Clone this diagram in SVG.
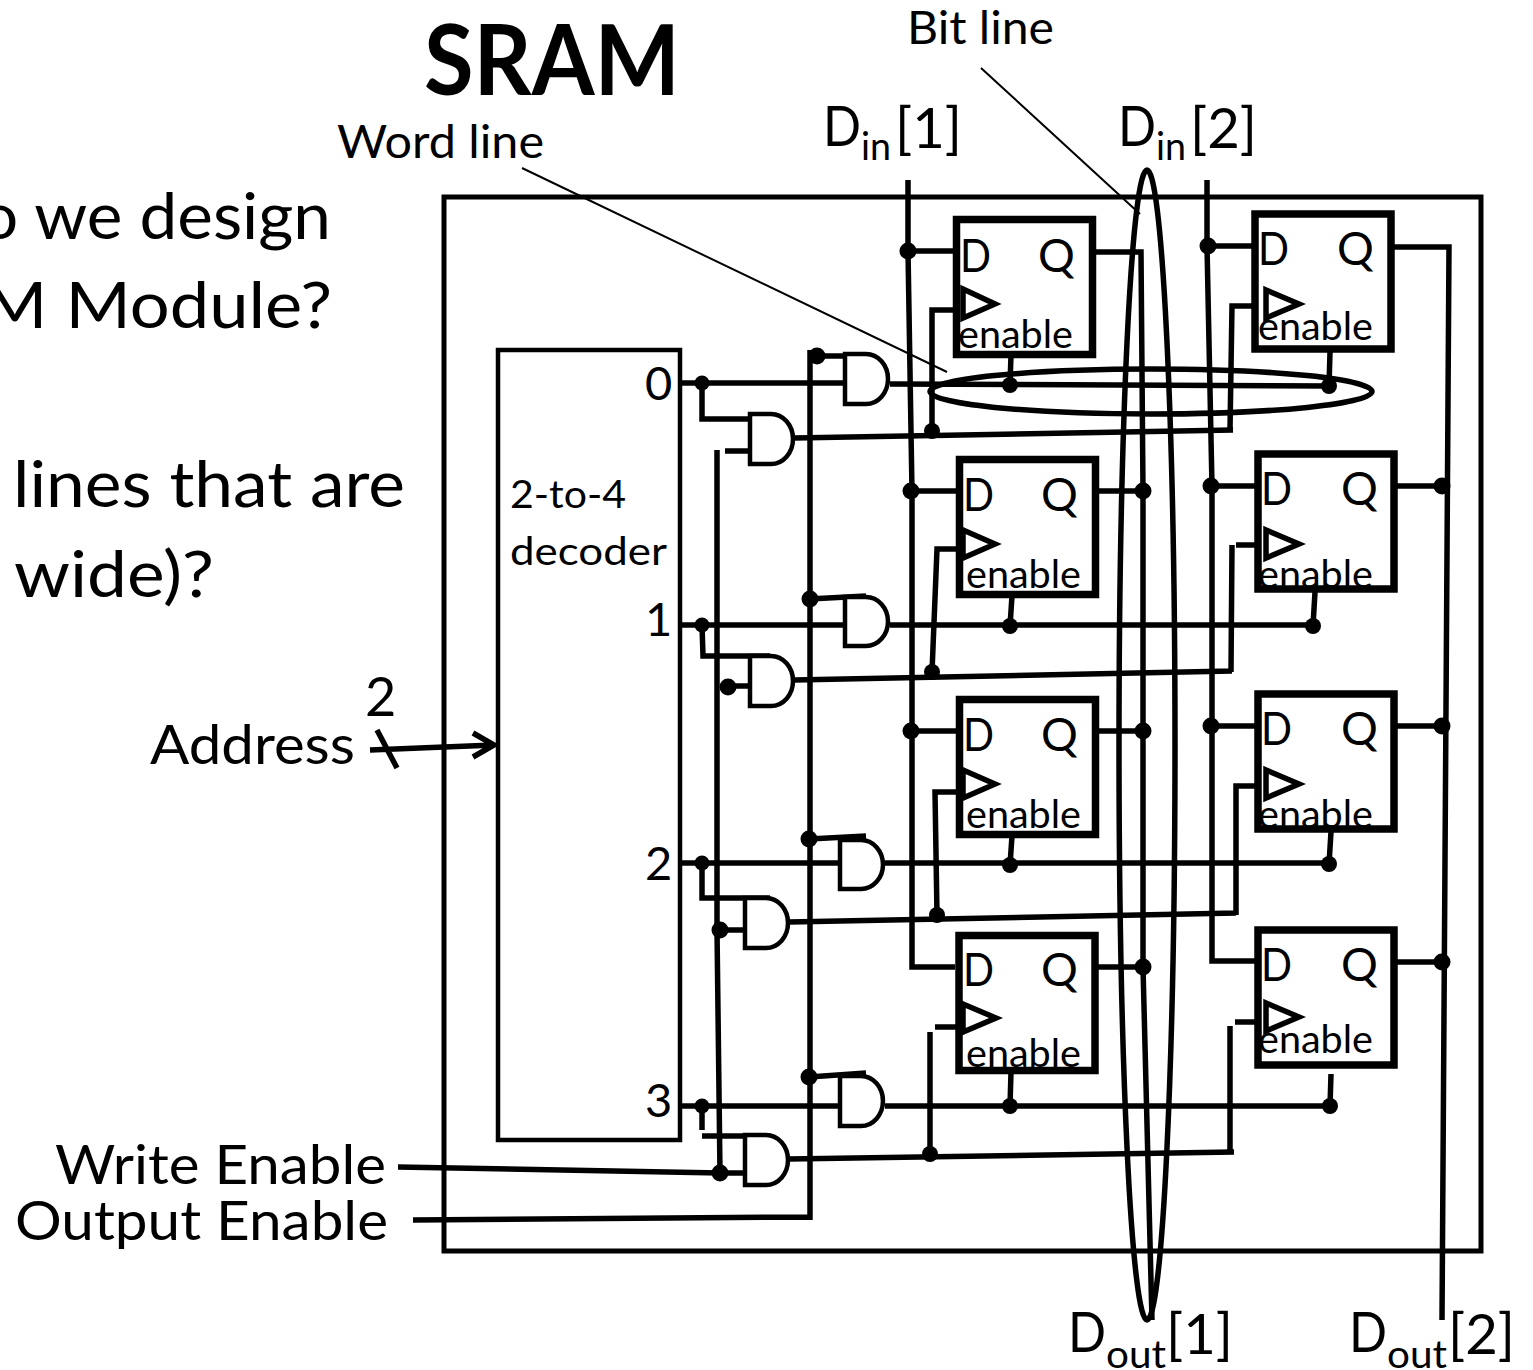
<svg xmlns="http://www.w3.org/2000/svg" width="1533" height="1370" viewBox="0 0 1533 1370">
<style>
text{font-family:"Lato","Carlito","Open Sans",sans-serif;fill:#000}
.h{font-size:64px}
.l{font-size:47px}
.m{font-size:54px}
.e{font-size:38px}
.dq{font-size:46px}
.s{font-size:38px}
.b{font-size:56px}
.w{fill:none;stroke:#000;stroke-width:5.5}
.o{fill:none;stroke:#000;stroke-width:5.5}
.t{fill:none;stroke:#000;stroke-width:2}
.ff{fill:#fff;stroke:#000;stroke-width:7.5}
.tri{fill:none;stroke:#000;stroke-width:5.5;stroke-linejoin:miter}
.g{fill:#fff;stroke:#000;stroke-width:4.5}
.d{fill:#000}
</style>
<rect x="0" y="0" width="1533" height="1370" fill="#fff"/>
<g id="slide-text">
<text x="424" y="95" font-size="98" font-weight="700" textLength="256" lengthAdjust="spacingAndGlyphs">SRAM</text>
<text class="h" x="-20" y="239" textLength="351" lengthAdjust="spacingAndGlyphs">o we design</text>
<text class="h" x="-18" y="328" textLength="350" lengthAdjust="spacingAndGlyphs">M Module?</text>
<text class="h" x="13" y="507" textLength="392" lengthAdjust="spacingAndGlyphs">lines that are</text>
<text class="h" x="14" y="597" textLength="200" lengthAdjust="spacingAndGlyphs">wide)?</text>
</g>
<g id="sram-box"><rect x="444" y="197" width="1037" height="1054" fill="#fff" stroke="#000" stroke-width="5"/></g>
<g id="decoder">
<rect x="498" y="350" width="182" height="790" fill="#fff" stroke="#000" stroke-width="4.5"/>
<text class="e" x="510" y="508" textLength="116" lengthAdjust="spacingAndGlyphs">2-to-4</text>
<text class="e" x="510" y="565" textLength="157" lengthAdjust="spacingAndGlyphs">decoder</text>
<text class="l" x="645" y="400">0</text>
<text class="l" x="645" y="636">1</text>
<text class="l" x="645" y="880">2</text>
<text class="l" x="645" y="1117">3</text>
</g>
<g id="connectors">
<path class="w" d="M908 180L908 251L912 491L912 967L955 967M908 251H955M911 491H959M911 731H959"/>
<path class="w" d="M1207 180L1207 246L1212 486L1212 961L1258 961M1207 246H1255M1211 486H1258M1211 726H1258"/>
<path class="w" d="M1092 252H1141L1143 491L1143 731L1143 967L1152 1320M1096 491H1143M1096 731H1143M1096 967H1143"/>
<path class="w" d="M1392 247H1449L1442 1320M1396 486H1442M1396 726H1442M1396 962H1442"/>
<path class="w" d="M680 383H845M890 384L1329 386M1011 355L1010 385M1330 352L1329 386"/>
<path class="w" d="M680 625H845M890 625H1313M1012 596L1010 626M1315 592L1313 626"/>
<path class="w" d="M680 863H840M885 863H1329M1012 836L1010 865M1331 832L1329 864"/>
<path class="w" d="M680 1106H840M885 1106H1330M1011 1072L1010 1106M1331 1074L1330 1106"/>
<path class="w" d="M702 383V419H770M725 451H748"/>
<path class="w" d="M702 625L703 656H770"/>
<path class="w" d="M702 863V898H770"/>
<path class="w" d="M702 1106V1130M702 1136H770"/>
<path class="w" d="M717 450V930L720 1173M728 686H748M720 930H743M398 1167L720 1173H743"/>
<path class="w" d="M810 350V1220M413 1220L810 1217"/>
<path class="w" d="M817 356H843M809 599L866 596M809 839L866 836M809 1077L866 1073"/>
<path class="w" d="M794 438L1233 430M932 431V310H955M1230 430L1232 306H1255"/>
<path class="w" d="M794 680L1232 671M932 672L937 549H959M1231 672L1232 545M1236 545H1258"/>
<path class="w" d="M789 922L1236 913M937 915L935 792H959M1236 915V786H1258"/>
<path class="w" d="M789 1159L1234 1152M930 1154V1032M935 1027H959M1230 1152V1026M1235 1022H1258"/>
<path class="w" d="M370 750L494 745M473 733L494 745L473 757M377 730L397 768"/>
<path class="t" d="M522 168L947 372M981 68L1140 214"/>
<ellipse class="o" cx="1151" cy="391.5" rx="221" ry="22.5"/>
<ellipse class="o" cx="1147" cy="745" rx="28" ry="575"/>
</g>
<g id="gate-0a"><path class="g" d="M845 354H866A22 25 0 0 1 866 404H845Z"/></g>
<g id="gate-0b"><path class="g" d="M750 414H771A22 25 0 0 1 771 464H750Z"/></g>
<g id="gate-1a"><path class="g" d="M845 597H866A22 24.500 0 0 1 866 646H845Z"/></g>
<g id="gate-1b"><path class="g" d="M750 656H771A22 25 0 0 1 771 706H750Z"/></g>
<g id="gate-2a"><path class="g" d="M840 840H861A22 24.500 0 0 1 861 889H840Z"/></g>
<g id="gate-2b"><path class="g" d="M745 898H766A22 25 0 0 1 766 948H745Z"/></g>
<g id="gate-3a"><path class="g" d="M840 1076H861A22 25 0 0 1 861 1126H840Z"/></g>
<g id="gate-3b"><path class="g" d="M745 1135H766A22 25 0 0 1 766 1185H745Z"/></g>
<g id="ff-1-1"><rect class="ff" x="956.500" y="219.500" width="136" height="135"/><text class="dq" x="960" y="272" textLength="31" lengthAdjust="spacingAndGlyphs">D</text><text class="dq" x="1038" y="272">Q</text><path class="tri" d="M963 289L995 304L963 318Z"/><text class="e" x="958" y="348" textLength="115" lengthAdjust="spacingAndGlyphs">enable</text></g>
<g id="ff-2-1"><rect class="ff" x="959.500" y="459.500" width="136" height="135"/><text class="dq" x="963" y="511" textLength="31" lengthAdjust="spacingAndGlyphs">D</text><text class="dq" x="1041" y="511">Q</text><path class="tri" d="M963 530L995 544L963 558Z"/><text class="e" x="966" y="588" textLength="115" lengthAdjust="spacingAndGlyphs">enable</text></g>
<g id="ff-3-1"><rect class="ff" x="959.500" y="699.500" width="136" height="135"/><text class="dq" x="963" y="751" textLength="31" lengthAdjust="spacingAndGlyphs">D</text><text class="dq" x="1041" y="751">Q</text><path class="tri" d="M963 770L995 784L963 798Z"/><text class="e" x="966" y="828" textLength="115" lengthAdjust="spacingAndGlyphs">enable</text></g>
<g id="ff-4-1"><rect class="ff" x="959" y="935.500" width="136" height="135"/><text class="dq" x="963" y="986" textLength="31" lengthAdjust="spacingAndGlyphs">D</text><text class="dq" x="1041" y="986">Q</text><path class="tri" d="M963 1004L996 1018L963 1032Z"/><text class="e" x="966" y="1067" textLength="115" lengthAdjust="spacingAndGlyphs">enable</text></g>
<g id="ff-1-2"><rect class="ff" x="1255" y="214" width="136" height="135"/><text class="dq" x="1258" y="265" textLength="31" lengthAdjust="spacingAndGlyphs">D</text><text class="dq" x="1337" y="265">Q</text><path class="tri" d="M1266 290L1299 304L1266 318Z"/><text class="e" x="1258" y="340" textLength="115" lengthAdjust="spacingAndGlyphs">enable</text></g>
<g id="ff-2-2"><rect class="ff" x="1258" y="454" width="136" height="135"/><text class="dq" x="1261" y="505" textLength="31" lengthAdjust="spacingAndGlyphs">D</text><text class="dq" x="1341" y="505">Q</text><path class="tri" d="M1266 530L1299 544L1266 558Z"/><text class="e" x="1258" y="588" textLength="115" lengthAdjust="spacingAndGlyphs">enable</text></g>
<g id="ff-3-2"><rect class="ff" x="1258" y="694" width="136" height="135"/><text class="dq" x="1261" y="745" textLength="31" lengthAdjust="spacingAndGlyphs">D</text><text class="dq" x="1341" y="745">Q</text><path class="tri" d="M1266 770L1299 784L1266 798Z"/><text class="e" x="1258" y="828" textLength="115" lengthAdjust="spacingAndGlyphs">enable</text></g>
<g id="ff-4-2"><rect class="ff" x="1258" y="930" width="136" height="135"/><text class="dq" x="1261" y="981" textLength="31" lengthAdjust="spacingAndGlyphs">D</text><text class="dq" x="1341" y="981">Q</text><path class="tri" d="M1266 1003L1299 1017L1266 1031Z"/><text class="e" x="1258" y="1053" textLength="115" lengthAdjust="spacingAndGlyphs">enable</text></g>
<g id="dots">
<circle class="d" cx="908" cy="251" r="8.500"/><circle class="d" cx="911" cy="491" r="8.500"/><circle class="d" cx="911" cy="731" r="8.500"/>
<circle class="d" cx="1208" cy="246" r="8.500"/><circle class="d" cx="1211" cy="486" r="8.500"/><circle class="d" cx="1211" cy="726" r="8.500"/>
<circle class="d" cx="1143" cy="491" r="8.500"/><circle class="d" cx="1143" cy="731" r="8.500"/><circle class="d" cx="1143" cy="967" r="8.500"/>
<circle class="d" cx="1442" cy="486" r="8.500"/><circle class="d" cx="1442" cy="726" r="8.500"/><circle class="d" cx="1442" cy="962" r="8.500"/>
<circle class="d" cx="1010" cy="385" r="8"/><circle class="d" cx="1329" cy="386" r="8"/><circle class="d" cx="1010" cy="626" r="8"/><circle class="d" cx="1313" cy="626" r="8"/>
<circle class="d" cx="1010" cy="865" r="8"/><circle class="d" cx="1329" cy="864" r="8"/><circle class="d" cx="1010" cy="1106" r="8"/><circle class="d" cx="1330" cy="1106" r="8"/>
<circle class="d" cx="702" cy="383" r="7.500"/><circle class="d" cx="702" cy="625" r="7.500"/><circle class="d" cx="702" cy="863" r="7.500"/><circle class="d" cx="702" cy="1106" r="7.500"/>
<circle class="d" cx="817" cy="356" r="8.500"/><circle class="d" cx="810" cy="599" r="8.500"/><circle class="d" cx="809" cy="839" r="8.500"/><circle class="d" cx="809" cy="1077" r="8.500"/>
<circle class="d" cx="932" cy="431" r="8"/><circle class="d" cx="932" cy="672" r="8"/><circle class="d" cx="937" cy="915" r="8"/><circle class="d" cx="930" cy="1154" r="8"/>
<circle class="d" cx="728" cy="687" r="8.500"/><circle class="d" cx="720" cy="930" r="8.500"/><circle class="d" cx="720" cy="1173" r="8.500"/>
</g>
<g id="labels">
<text class="l" x="337" y="158" textLength="207" lengthAdjust="spacingAndGlyphs">Word line</text>
<text class="l" x="907" y="44" textLength="147" lengthAdjust="spacingAndGlyphs">Bit line</text>
<text class="b" x="823" y="146" textLength="38" lengthAdjust="spacingAndGlyphs">D</text><text class="s" x="861" y="160" textLength="30" lengthAdjust="spacingAndGlyphs">in</text><text class="b" x="895" y="148" textLength="67" lengthAdjust="spacingAndGlyphs">[1]</text>
<text class="b" x="1118" y="146" textLength="38" lengthAdjust="spacingAndGlyphs">D</text><text class="s" x="1156" y="160" textLength="30" lengthAdjust="spacingAndGlyphs">in</text><text class="b" x="1190" y="148" textLength="67" lengthAdjust="spacingAndGlyphs">[2]</text>
<text class="b" x="1068" y="1352" textLength="38" lengthAdjust="spacingAndGlyphs">D</text><text class="s" x="1106" y="1368" textLength="60" lengthAdjust="spacingAndGlyphs">out</text><text class="b" x="1166" y="1354" textLength="67" lengthAdjust="spacingAndGlyphs">[1]</text>
<text class="b" x="1349" y="1352" textLength="38" lengthAdjust="spacingAndGlyphs">D</text><text class="s" x="1387" y="1368" textLength="60" lengthAdjust="spacingAndGlyphs">out</text><text class="b" x="1448" y="1354" textLength="67" lengthAdjust="spacingAndGlyphs">[2]</text>
<text class="m" x="150" y="764" textLength="205" lengthAdjust="spacingAndGlyphs">Address</text>
<text class="m" x="365" y="716">2</text>
<text class="m" x="55" y="1184" textLength="331" lengthAdjust="spacingAndGlyphs">Write Enable</text>
<text class="m" x="15" y="1240" textLength="373" lengthAdjust="spacingAndGlyphs">Output Enable</text>
</g>
</svg>
